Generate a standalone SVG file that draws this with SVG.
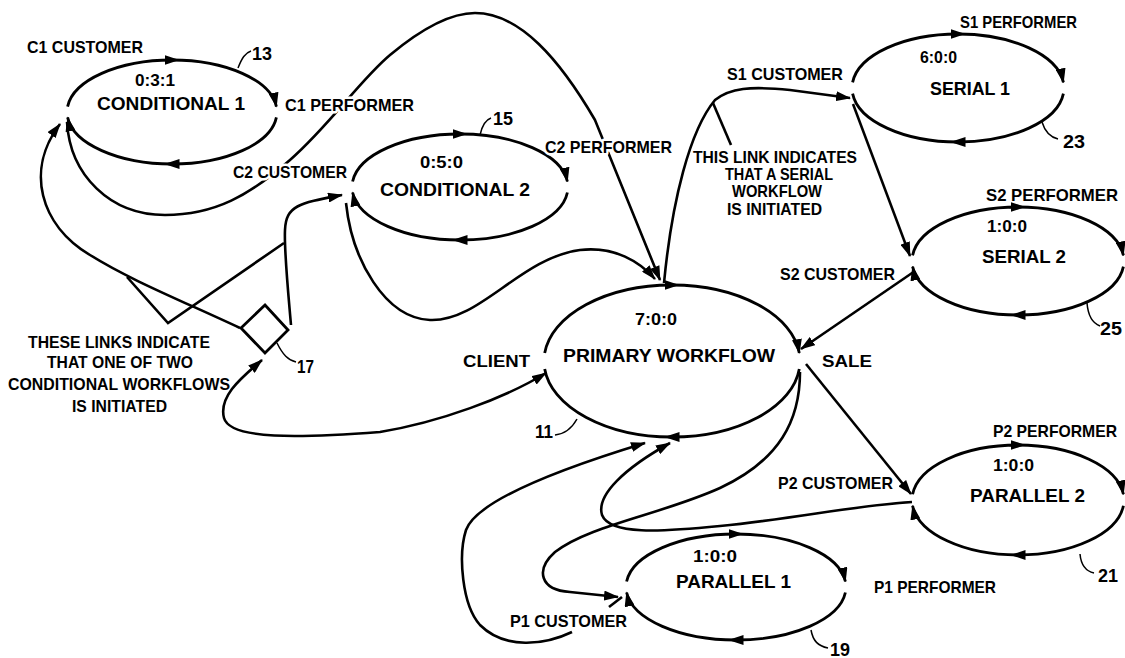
<svg xmlns="http://www.w3.org/2000/svg" width="1125" height="658" viewBox="0 0 1125 658">
<style>
.e{fill:none;stroke:#000;stroke-width:2.8}
.top{marker-mid:url(#am);marker-end:url(#ah)}
.bot{marker-mid:url(#am)}
.be{marker-end:url(#ah)}
.c{fill:none;stroke:#000;stroke-width:2.6}
.ce{marker-end:url(#ah)}
.l{fill:none;stroke:#000;stroke-width:1.5}
text{font-family:"Liberation Sans",Arial,Helvetica,sans-serif;font-weight:bold;fill:#000}
.n{font-size:19px}
.r{font-size:16px}
.lb{font-size:17px}
.num{font-size:18px}
.h{paint-order:stroke;stroke:#fff;stroke-width:5px;stroke-linejoin:round}
</style>
<defs>
<marker id="ah" viewBox="0 0 15 10" refX="14" refY="5" markerWidth="15" markerHeight="10" markerUnits="userSpaceOnUse" orient="auto"><path d="M0,0 L15,5 L0,10 z"/></marker>
<marker id="am" viewBox="0 0 15 10" refX="7.5" refY="5" markerWidth="15" markerHeight="10" markerUnits="userSpaceOnUse" orient="auto"><path d="M0,0 L15,5 L0,10 z"/></marker>
<marker id="as" viewBox="0 0 15 10" refX="14" refY="5" markerWidth="15" markerHeight="10" markerUnits="userSpaceOnUse" orient="auto-start-reverse"><path d="M0,0 L15,5 L0,10 z"/></marker>
</defs>
<rect width="1125" height="658" fill="#fff"/>

<g id="connectors">
<path class="c ce" d="M67,122 C70,175 110,215 165,215 C215,215 250,195 290,160 C330,125 360,80 390,55 C420,30 450,13 475,13 C520,13 560,60 595,120 L660,280"/>
<path class="c ce" d="M346,203 C352,260 385,318 430,320 C480,322 520,258 580,250 C615,246 640,262 655,279"/>
<path class="c ce" d="M664,283 C672,200 690,130 715,100 C730,88 750,86 790,90 L850,98"/>
<path class="c ce" d="M853,104 L910,256"/>
<path class="c ce" d="M915,271 L801,349"/>
<path class="c ce" d="M806,364 L911,494"/>
<path class="c ce" d="M800,372 C800,420 780,460 720,488 C660,515 590,525 555,552 C535,570 540,590 570,592 L618,597"/>
<path class="c ce" d="M912,502 C850,506 800,518 720,526 C660,532 610,535 602,515 C596,495 625,468 670,443"/>
<path class="c ce" d="M572,632 C545,645 505,650 480,625 C462,605 458,555 466,530 C475,505 540,475 645,443"/>
<path class="c" d="M609,607 L622,597"/>
<path class="c" style="marker-start:url(#as);marker-end:url(#ah)" d="M262,360 C245,375 218,395 224,418 C230,440 300,438 380,432 C440,422 505,398 546,373"/>
<path class="c ce" d="M240,328 C180,300 130,280 90,255 C40,225 25,170 60,124"/>
<path class="c ce" d="M291,325 C288,290 284,250 285,230 C286,205 300,203 342,195"/>
<path class="c" d="M127,277 L168,323 L284,243"/>
<path class="c" d="M713,103 L731,145"/>
</g>

<g id="node-13-conditional1">
<path class="e top" d="M67.6,106.6 A105,52 0 0 1 172,60 A105,52 0 0 1 276.4,106.6"/>
<path class="e bot be" d="M276.4,117.4 A105,52 0 0 1 172,164 A105,52 0 0 1 67.6,117.4"/>
<text class="lb" x="27" y="53" textLength="116" lengthAdjust="spacingAndGlyphs">C1 CUSTOMER</text>
<text class="lb h" x="285" y="111" textLength="129" lengthAdjust="spacingAndGlyphs">C1 PERFORMER</text>
<text class="r" x="135" y="86" textLength="40" lengthAdjust="spacingAndGlyphs">0:3:1</text>
<text class="n" x="97" y="110" textLength="148" lengthAdjust="spacingAndGlyphs">CONDITIONAL 1</text>
<path class="l" d="M238,68 C242,58 245,53 251,51"/>
<text class="num" x="252" y="60" textLength="20" lengthAdjust="spacingAndGlyphs">13</text>
</g>

<g id="node-15-conditional2">
<path class="e top" d="M352.6,181.5 A108,53 0 0 1 460,134 A108,53 0 0 1 567.4,181.5"/>
<path class="e bot be" d="M567.4,192.5 A108,53 0 0 1 460,240 A108,53 0 0 1 352.6,192.5"/>
<text class="lb h" x="233" y="178" textLength="114" lengthAdjust="spacingAndGlyphs">C2 CUSTOMER</text>
<text class="lb h" x="545" y="153" textLength="127" lengthAdjust="spacingAndGlyphs">C2 PERFORMER</text>
<text class="r" x="420" y="168" textLength="43" lengthAdjust="spacingAndGlyphs">0:5:0</text>
<text class="n" x="380" y="196" textLength="150" lengthAdjust="spacingAndGlyphs">CONDITIONAL 2</text>
<path class="l" d="M480,135 C482,126 485,120 491,118"/>
<text class="num" x="493" y="125" textLength="20" lengthAdjust="spacingAndGlyphs">15</text>
</g>

<g id="node-23-serial1">
<path class="e top" d="M852.6,82.4 A106,54 0 0 1 958,34 A106,54 0 0 1 1063.4,82.4"/>
<path class="e bot" d="M1063.4,93.6 A106,54 0 0 1 958,142 A106,54 0 0 1 852.6,93.6"/>
<text class="lb" x="727" y="80" textLength="116" lengthAdjust="spacingAndGlyphs">S1 CUSTOMER</text>
<text class="lb" x="960" y="28" textLength="117" lengthAdjust="spacingAndGlyphs">S1 PERFORMER</text>
<text class="r" x="920" y="63" textLength="37" lengthAdjust="spacingAndGlyphs">6:0:0</text>
<text class="n" x="930" y="95" textLength="80" lengthAdjust="spacingAndGlyphs">SERIAL 1</text>
<path class="l" d="M1042,122 C1045,132 1050,137 1058,139"/>
<text class="num" x="1063" y="148" textLength="22" lengthAdjust="spacingAndGlyphs">23</text>
</g>

<g id="node-25-serial2">
<path class="e top" d="M912.6,255.4 A106,54 0 0 1 1018,207 A106,54 0 0 1 1123.4,255.4"/>
<path class="e bot be" d="M1123.4,266.6 A106,54 0 0 1 1018,315 A106,54 0 0 1 912.6,266.6"/>
<text class="lb" x="780" y="280" textLength="115" lengthAdjust="spacingAndGlyphs">S2 CUSTOMER</text>
<text class="lb" x="986" y="201" textLength="132" lengthAdjust="spacingAndGlyphs">S2 PERFORMER</text>
<text class="r" x="987" y="232" textLength="40" lengthAdjust="spacingAndGlyphs">1:0:0</text>
<text class="n" x="982" y="263" textLength="84" lengthAdjust="spacingAndGlyphs">SERIAL 2</text>
<path class="l" d="M1087,303 C1088,315 1092,323 1100,326"/>
<text class="num" x="1100" y="335" textLength="22" lengthAdjust="spacingAndGlyphs">25</text>
</g>

<g id="node-11-primary">
<path class="e top" d="M544.7,353.1 A128,76 0 0 1 672,285 A128,76 0 0 1 799.3,353.1"/>
<path class="e bot" d="M799.3,368.9 A128,76 0 0 1 672,437 A128,76 0 0 1 544.7,368.9"/>
<text class="lb" x="463" y="367" textLength="67" lengthAdjust="spacingAndGlyphs">CLIENT</text>
<text class="lb" x="822" y="367" textLength="50" lengthAdjust="spacingAndGlyphs">SALE</text>
<text class="r" x="635" y="325" textLength="42" lengthAdjust="spacingAndGlyphs">7:0:0</text>
<text class="n" x="563" y="362" textLength="212" lengthAdjust="spacingAndGlyphs">PRIMARY WORKFLOW</text>
<path class="l" d="M577,419 C572,428 565,434 555,435"/>
<text class="num" x="535" y="438" textLength="18" lengthAdjust="spacingAndGlyphs">11</text>
</g>

<g id="node-21-parallel2">
<path class="e top" d="M912.6,494.3 A106,55 0 0 1 1018,445 A106,55 0 0 1 1123.4,494.3"/>
<path class="e bot be" d="M1123.4,505.7 A106,55 0 0 1 1018,555 A106,55 0 0 1 912.6,505.7"/>
<text class="lb" x="778" y="489" textLength="115" lengthAdjust="spacingAndGlyphs">P2 CUSTOMER</text>
<text class="lb" x="993" y="437" textLength="124" lengthAdjust="spacingAndGlyphs">P2 PERFORMER</text>
<text class="r" x="993" y="471" textLength="41" lengthAdjust="spacingAndGlyphs">1:0:0</text>
<text class="n" x="970" y="502" textLength="115" lengthAdjust="spacingAndGlyphs">PARALLEL 2</text>
<path class="l" d="M1080,554 C1081,565 1085,571 1094,573"/>
<text class="num" x="1098" y="582" textLength="20" lengthAdjust="spacingAndGlyphs">21</text>
</g>

<g id="node-19-parallel1">
<path class="e top" d="M626.6,581.5 A110,53 0 0 1 736,534 A110,53 0 0 1 845.4,581.5"/>
<path class="e bot be" d="M845.4,592.5 A110,53 0 0 1 736,640 A110,53 0 0 1 626.6,592.5"/>
<text class="lb" x="510" y="627" textLength="117" lengthAdjust="spacingAndGlyphs">P1 CUSTOMER</text>
<text class="lb" x="874" y="593" textLength="122" lengthAdjust="spacingAndGlyphs">P1 PERFORMER</text>
<text class="r" x="693" y="562" textLength="44" lengthAdjust="spacingAndGlyphs">1:0:0</text>
<text class="n" x="676" y="588" textLength="115" lengthAdjust="spacingAndGlyphs">PARALLEL 1</text>
<path class="l" d="M811,630 C813,641 818,646 828,648"/>
<text class="num" x="830" y="656" textLength="20" lengthAdjust="spacingAndGlyphs">19</text>
</g>

<g id="node-17-conditional-branch">
<polygon points="265,305 288,330 265,353 241,328" fill="#fff" stroke="#000" stroke-width="2.8"/>
<path class="l" d="M277,343 C283,355 288,360 296,362"/>
<text class="num" x="297" y="373" textLength="17" lengthAdjust="spacingAndGlyphs">17</text>
</g>

<g id="note-conditional">
<text class="lb" x="28" y="348" textLength="182" lengthAdjust="spacingAndGlyphs">THESE LINKS INDICATE</text>
<text class="lb" x="47" y="368" textLength="146" lengthAdjust="spacingAndGlyphs">THAT ONE OF TWO</text>
<text class="lb" x="8" y="390" textLength="222" lengthAdjust="spacingAndGlyphs">CONDITIONAL WORKFLOWS</text>
<text class="lb" x="72" y="412" textLength="95" lengthAdjust="spacingAndGlyphs">IS INITIATED</text>
</g>

<g id="note-serial">
<text class="lb" x="693" y="163" textLength="164" lengthAdjust="spacingAndGlyphs">THIS LINK INDICATES</text>
<text class="lb" x="725" y="180" textLength="108" lengthAdjust="spacingAndGlyphs">THAT A SERIAL</text>
<text class="lb" x="732" y="197" textLength="90" lengthAdjust="spacingAndGlyphs">WORKFLOW</text>
<text class="lb" x="727" y="215" textLength="95" lengthAdjust="spacingAndGlyphs">IS INITIATED</text>
</g>
</svg>
